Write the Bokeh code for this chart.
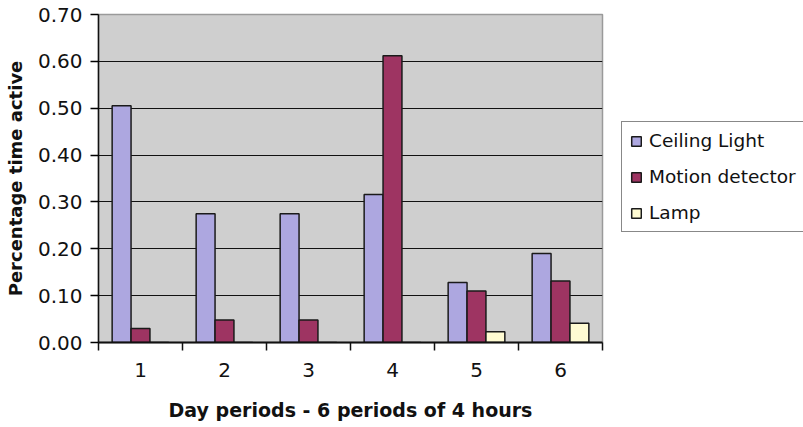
from bokeh.plotting import figure
from bokeh.models import (ColumnDataSource, Range1d, FixedTicker, NumeralTickFormatter,
                          Legend, LegendItem)
from bokeh.transform import dodge
from bokeh.embed import file_html
from bokeh.resources import INLINE

periods = [1, 2, 3, 4, 5, 6]
ceiling_light = [0.505, 0.275, 0.275, 0.316, 0.128, 0.190]
motion_detector = [0.030, 0.048, 0.048, 0.612, 0.110, 0.131]
lamp = [0.0, 0.0, 0.0, 0.0, 0.023, 0.041]
y_ticks = [0.0, 0.1, 0.2, 0.3, 0.4, 0.5, 0.6, 0.7]

source = ColumnDataSource(data=dict(
    period=periods, ceiling=ceiling_light, motion=motion_detector, lamp=lamp))

TEXT_FONT = "DejaVu Sans"

p = figure(width=803, height=427, output_backend="svg", toolbar_location=None,
           x_range=Range1d(0.5, 6.5), y_range=Range1d(0, 0.70),
           frame_width=504, frame_height=328,
           min_border_left=98, min_border_right=0, min_border_top=14,
           min_border_bottom=85)

p.background_fill_color = "#CFCFCF"
p.border_fill_color = "white"
p.outline_line_color = "#9A9A9A"
p.outline_line_width = 1.5

bar_w = 0.225
series = [("ceiling", "#ADA7E0", "Ceiling Light", -bar_w),
          ("motion", "#9E3462", "Motion detector", 0.0),
          ("lamp", "#FFFBD2", "Lamp", bar_w)]

items = []
for field, color, label, offset in series:
    r = p.vbar(x=dodge("period", offset, range=p.x_range), top=field, width=bar_w,
               source=source, fill_color=color, line_color="#1A1A1A", line_width=1.5)
    items.append(LegendItem(label=label, renderers=[r]))

# grid
p.xgrid.grid_line_color = None
p.ygrid.ticker = FixedTicker(ticks=y_ticks)
p.ygrid.grid_line_color = "#111111"
p.ygrid.grid_line_width = 1

# y axis
p.yaxis.ticker = FixedTicker(ticks=y_ticks)
p.yaxis.formatter = NumeralTickFormatter(format="0.00")
p.yaxis.axis_line_color = "#111111"
p.yaxis.axis_line_width = 1.5
p.yaxis.major_tick_out = 8
p.yaxis.major_tick_in = 0
p.yaxis.major_tick_line_width = 1.5
p.yaxis.minor_tick_line_color = None
p.yaxis.major_label_standoff = 8
p.yaxis.major_label_text_font = TEXT_FONT
p.yaxis.major_label_text_font_size = "20px"
p.yaxis.major_label_text_color = "#111111"
p.yaxis.axis_label = "Percentage time active"
p.yaxis.axis_label_text_font = TEXT_FONT
p.yaxis.axis_label_text_font_style = "bold"
p.yaxis.axis_label_text_font_size = "18px"
p.yaxis.axis_label_text_color = "#111111"
p.yaxis.axis_label_standoff = 9

# x axis: labels at group centres, tick marks at group boundaries
p.xaxis.ticker = FixedTicker(ticks=periods, minor_ticks=[0.5 + i for i in range(7)])
p.xaxis.axis_line_color = "#111111"
p.xaxis.axis_line_width = 2
p.xaxis.major_tick_line_color = None
p.xaxis.major_tick_out = 0
p.xaxis.major_tick_in = 0
p.xaxis.minor_tick_out = 8
p.xaxis.minor_tick_in = 0
p.xaxis.minor_tick_line_color = "#111111"
p.xaxis.minor_tick_line_width = 1.5
p.xaxis.major_label_standoff = 12
p.xaxis.major_label_text_font = TEXT_FONT
p.xaxis.major_label_text_font_size = "20px"
p.xaxis.major_label_text_color = "#111111"
p.xaxis.axis_label = "Day periods - 6 periods of 4 hours"
p.xaxis.axis_label_text_font = TEXT_FONT
p.xaxis.axis_label_text_font_style = "bold"
p.xaxis.axis_label_text_font_size = "19px"
p.xaxis.axis_label_text_color = "#111111"
p.xaxis.axis_label_standoff = 19

legend = Legend(items=items, location=(19, 110), orientation="vertical",
                glyph_width=12, glyph_height=12, label_standoff=7,
                label_text_font=TEXT_FONT, label_text_font_size="18.5px",
                label_text_color="#111111", label_height=20, spacing=15,
                padding=8, margin=0,
                border_line_color="#111111", border_line_width=1.5,
                background_fill_color="white", background_fill_alpha=1)
p.add_layout(legend, "right")

open("out.html", "w").write(file_html(p, INLINE))
